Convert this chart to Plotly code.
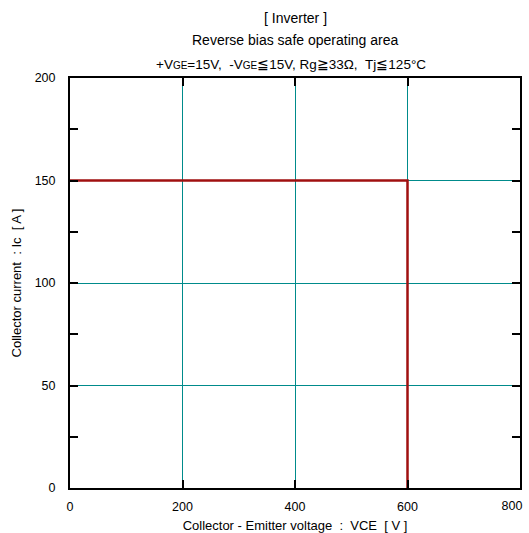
import plotly.graph_objects as go

# Reverse bias safe operating area boundary
vce = [0, 600, 600]
ic = [150, 150, 0]

x_ticks = [0, 200, 400, 600, 800]
y_ticks = [0, 50, 100, 150, 200]

FONT = "Liberation Sans, Arial, Helvetica, sans-serif"
GRID = "#008b8b"
TICK_FONT = dict(family=FONT, size=12.5, color="black")

fig = go.Figure()
fig.add_trace(go.Scatter(
    x=vce, y=ic, mode="lines",
    line=dict(color="#a01010", width=2.5),
    showlegend=False, hoverinfo="skip",
))

axis_common = dict(
    showline=True, linecolor="black", linewidth=2, mirror="allticks",
    ticks="inside", ticklen=8, tickwidth=1.5, tickcolor="black",
    showgrid=True, gridcolor=GRID, gridwidth=1, zeroline=False,
    automargin=False, tickfont=TICK_FONT,
)

# the label at the far right end is drawn on an overlay axis, nudged left to stay on the page
x_labels = [str(v) for v in x_ticks[:-1]] + [""]

fig.update_layout(
    xaxis=dict(
        range=[0, 800], tickvals=x_ticks, ticktext=x_labels,
        ticklabelstandoff=6,
        title=dict(text="Collector - Emitter voltage  :  VCE  [ V ]",
                   font=dict(family=FONT, size=13, color="black"), standoff=10),
        **axis_common,
    ),
    xaxis2=dict(
        overlaying="x", anchor="y", side="bottom", range=[0, 800],
        tickvals=x_ticks[-1:], ticktext=[str(x_ticks[-1])],
        ticks="", ticklabelstandoff=8, ticklabelshift=-8,
        ticklabeloverflow="allow",
        showline=False, showgrid=False, zeroline=False, automargin=False,
        tickfont=TICK_FONT,
    ),
    yaxis=dict(
        range=[0, 200], tickvals=y_ticks, ticktext=[str(v) for v in y_ticks],
        ticklabelstandoff=10,
        title=dict(text="Collector current  : Ic  [ A ]",
                   font=dict(family=FONT, size=13, color="black"), standoff=10),
        minor=dict(dtick=25, ticks="inside", ticklen=4, tickcolor="black", showgrid=False),
        **axis_common,
    ),
)
fig.add_trace(go.Scatter(x=[], y=[], xaxis="x2", yaxis="y", showlegend=False,
                         hoverinfo="skip"))

sub = '<span style="font-size:10px">GE</span>'
title_font = dict(family=FONT, size=14, color="black")
fig.add_annotation(text="[ Inverter ]", x=0.5, y=1.0, xref="paper", yref="paper",
                   yanchor="middle", yshift=60, showarrow=False, font=title_font)
fig.add_annotation(text="Reverse bias safe operating area", x=0.5, y=1.0, xref="paper",
                   yref="paper", yanchor="middle", yshift=38, showarrow=False,
                   font=title_font)
fig.add_annotation(
    text=f"+V{sub}=15V,  -V{sub}≦15V, Rg≧33Ω,  Tj≦125°C",
    x=0.5, y=1.0, xref="paper", yref="paper", yanchor="middle", yshift=14,
    xshift=-4, showarrow=False, font=dict(family=FONT, size=13.5, color="black"))

fig.update_layout(
    width=529, height=533,
    margin=dict(l=70, r=9, t=78, b=45),
    paper_bgcolor="white", plot_bgcolor="white",
    font=dict(family=FONT, color="black"),
)

fig.write_html("out.html")
